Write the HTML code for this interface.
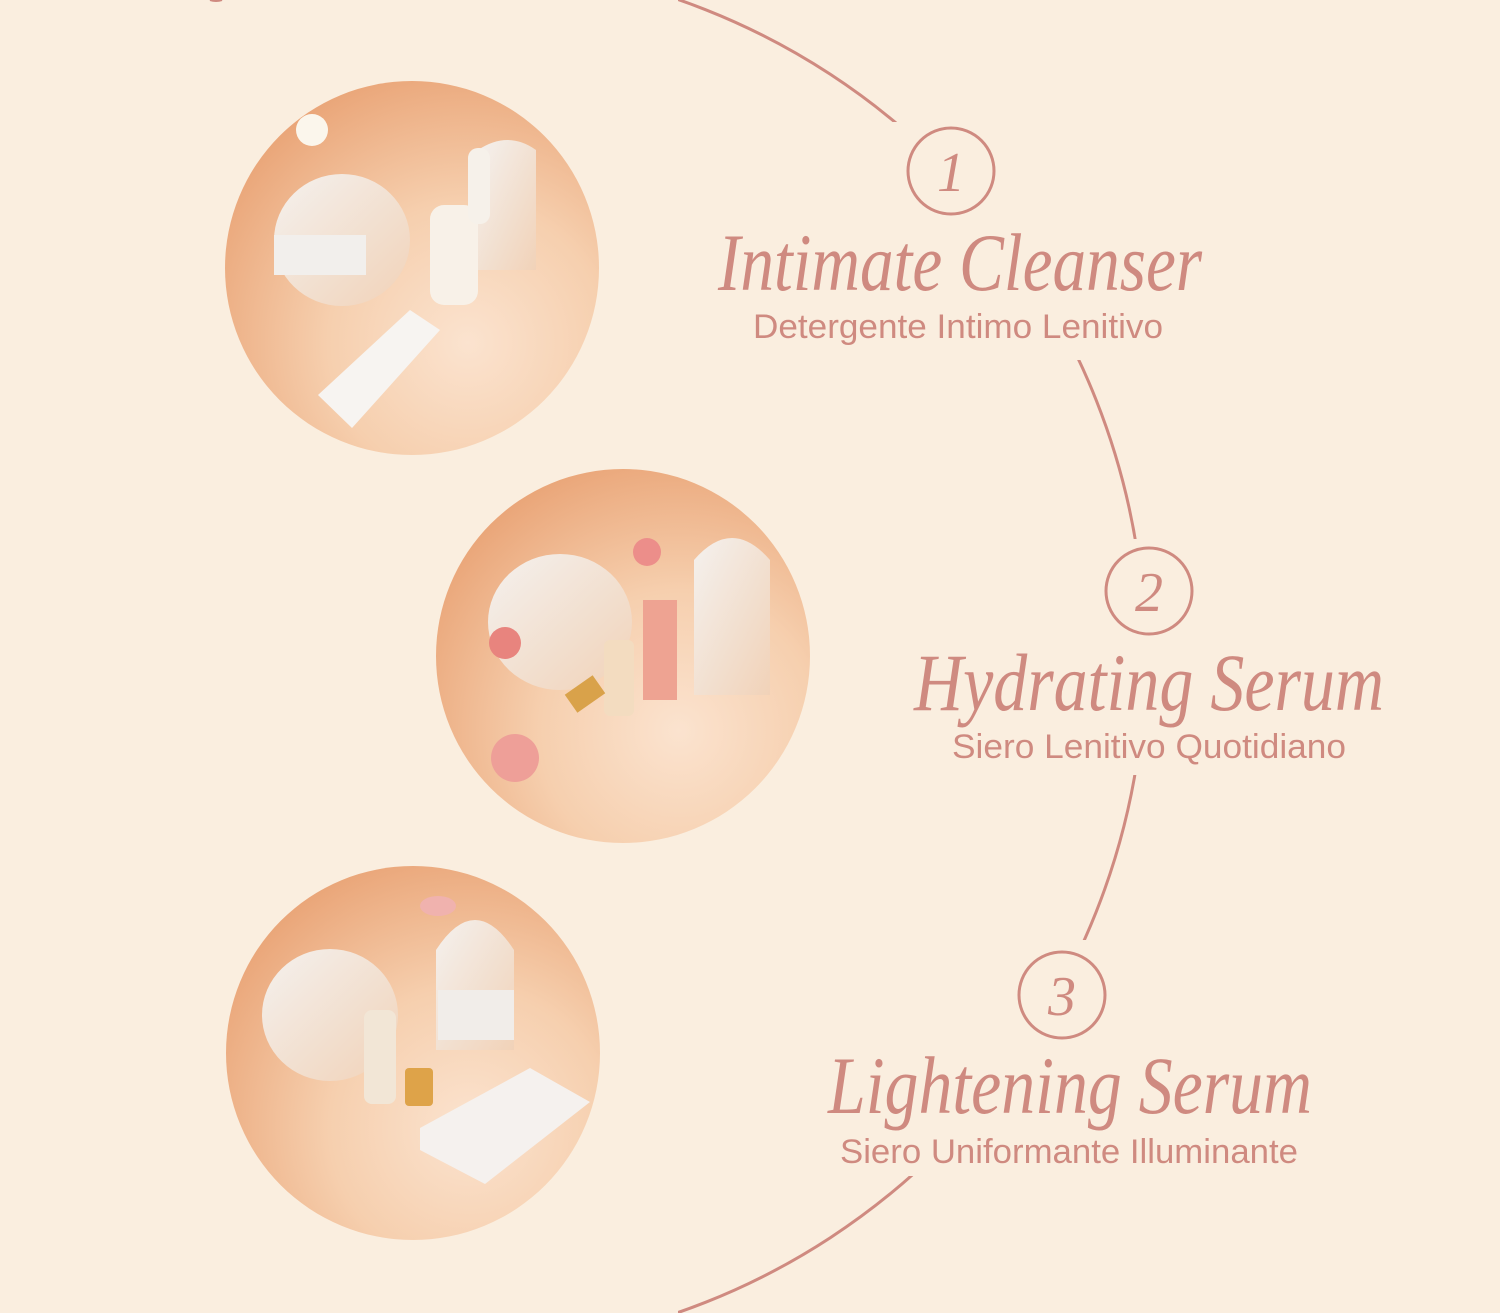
<!DOCTYPE html>
<html><head><meta charset="utf-8"><style>
html,body{margin:0;padding:0;background:#faeedf;}
svg{display:block}
</style></head><body>
<svg width="1500" height="1313" viewBox="0 0 1500 1313" xmlns="http://www.w3.org/2000/svg">
<defs>
<radialGradient id="pg" cx="0.65" cy="0.7" r="0.75">
<stop offset="0" stop-color="#fbe3cf"/>
<stop offset="0.5" stop-color="#f6cfae"/>
<stop offset="1" stop-color="#eaa679"/>
</radialGradient>
<linearGradient id="mir" x1="0" y1="0" x2="1" y2="1">
<stop offset="0" stop-color="#f4f1ee"/>
<stop offset="1" stop-color="#f1d2b8"/>
</linearGradient>
</defs>
<rect width="1500" height="1313" fill="#faeedf"/>
<circle cx="450" cy="656" r="695" fill="none" stroke="#cf8a80" stroke-width="3"/>
<rect x="860" y="122" width="400" height="238" fill="#faeedf"/>
<rect x="860" y="539" width="400" height="236" fill="#faeedf"/>
<rect x="860" y="940" width="400" height="236" fill="#faeedf"/>
<rect x="0" y="0" width="678" height="1313" fill="#faeedf"/>
<path d="M210 0 Q216 2 222 0" stroke="#cf8a80" stroke-width="2" fill="none"/>

<circle cx="412" cy="268" r="187" fill="url(#pg)"/>
<ellipse cx="342" cy="240" rx="68" ry="66" fill="url(#mir)"/>
<rect x="274" y="235" width="92" height="40" fill="#f2efec"/>
<path d="M478 150 q30 -20 58 0 v120 h-58z" fill="url(#mir)"/>
<rect x="430" y="205" width="48" height="100" rx="14" fill="#f8f1e8"/>
<rect x="468" y="148" width="22" height="76" rx="10" fill="#f6f1ea"/>
<polygon points="318,395 410,310 440,330 352,428" fill="#f7f4f1"/>
<circle cx="312" cy="130" r="16" fill="#fbf6ec"/>

<circle cx="623" cy="656" r="187" fill="url(#pg)"/>
<ellipse cx="560" cy="622" rx="72" ry="68" fill="url(#mir)"/>
<path d="M694 560 q38 -44 76 0 v135 h-76z" fill="url(#mir)"/>
<rect x="643" y="600" width="34" height="100" fill="#eea392"/>
<rect x="604" y="640" width="30" height="76" rx="6" fill="#f3dcc0"/>
<rect x="568" y="683" width="34" height="22" fill="#d9a24a" transform="rotate(-35 585 694)"/>
<circle cx="515" cy="758" r="24" fill="#ee9f98"/>
<circle cx="505" cy="643" r="16" fill="#e8847e"/>
<circle cx="647" cy="552" r="14" fill="#ec8e8a"/>

<circle cx="413" cy="1053" r="187" fill="url(#pg)"/>
<ellipse cx="330" cy="1015" rx="68" ry="66" fill="url(#mir)"/>
<path d="M436 950 q39 -60 78 0 v100 h-78z" fill="url(#mir)"/>
<rect x="438" y="990" width="76" height="50" fill="#f1ede9"/>
<rect x="364" y="1010" width="32" height="94" rx="8" fill="#f2e6d6"/>
<rect x="405" y="1068" width="28" height="38" rx="4" fill="#dea349"/>
<polygon points="420,1128 530,1068 590,1102 485,1184 420,1150" fill="#f5f1ee"/>
<ellipse cx="438" cy="906" rx="18" ry="10" fill="#f0b2ae"/>

<g fill="none" stroke="#cf8a80" stroke-width="3">
<circle cx="951" cy="171" r="43"/>
<circle cx="1149" cy="591" r="43"/>
<circle cx="1062" cy="995" r="43"/>
</g>
<g fill="#cf8a80" font-family="'Liberation Serif',serif" font-style="italic" text-anchor="middle">
<text x="951" y="191" font-size="56">1</text>
<text x="1149" y="611" font-size="56">2</text>
<text x="1062" y="1015" font-size="56">3</text>
<text x="960" y="290" font-size="82" textLength="484" lengthAdjust="spacingAndGlyphs">Intimate Cleanser</text>
<text x="1149" y="710" font-size="82" textLength="470" lengthAdjust="spacingAndGlyphs">Hydrating Serum</text>
<text x="1070" y="1113" font-size="82" textLength="484" lengthAdjust="spacingAndGlyphs">Lightening Serum</text>
</g>
<g fill="#cf8a80" font-family="'Liberation Sans',sans-serif" text-anchor="middle" font-size="34">
<text x="958" y="338" textLength="410" lengthAdjust="spacingAndGlyphs">Detergente Intimo Lenitivo</text>
<text x="1149" y="758" textLength="394" lengthAdjust="spacingAndGlyphs">Siero Lenitivo Quotidiano</text>
<text x="1069" y="1163" textLength="458" lengthAdjust="spacingAndGlyphs">Siero Uniformante Illuminante</text>
</g>
</svg>
</body></html>
